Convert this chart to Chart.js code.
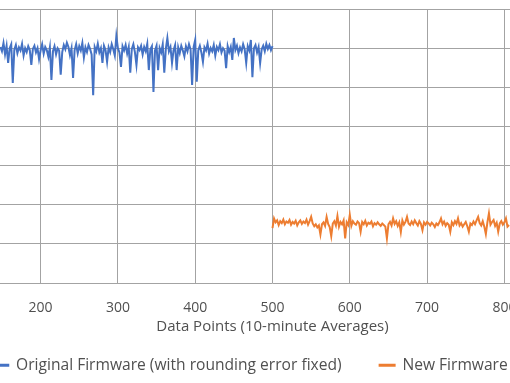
<!DOCTYPE html>
<html>
<head>
<meta charset="utf-8">
<script src="https://cdn.jsdelivr.net/npm/chart.js@4.4.1/dist/chart.umd.min.js"></script>
<style>
    html, body { margin: 0; padding: 0; background: #fff; overflow: hidden; }
    #wrap { position: relative; width: 510px; height: 383px; overflow: hidden; }
    /* the reference is a crop of a wider chart: the canvas hangs over both edges */
    #chart { position: absolute; left: -168px; top: 0; }
</style>
</head>
<body>
<div id="wrap"><canvas id="chart" width="877" height="383"></canvas></div>
<script>
/* ==========================================================================
   Firmware comparison, 10-minute averages (crop of an Excel line chart)
   ========================================================================== */

const SERIES_LABELS = ["Original Firmware (with rounding error fixed)", "New Firmware"];
const X_TITLE = "Data Points (10-minute Averages)";
const X_TICKS = [0, 100, 200, 300, 400, 500, 600, 700, 800, 900, 1000];
const Y_TICKS = [0, 1, 2, 3, 4, 5, 6, 7];

// original firmware: data points 148..500, every 2nd point
const ORIGINAL_START = 148;
const ORIGINAL_STEP = 2;
const ORIGINAL_VALUES = [
    6.03, 5.92, 6.13, 5.84, 6.06, 5.62, 6.00, 6.10, 5.11, 5.96,
    6.08, 5.87, 6.02, 5.94, 6.11, 5.81, 6.00, 5.90, 6.05, 5.95,
    5.57, 5.98, 6.06, 5.89, 6.00, 5.72, 5.94, 6.10, 5.86, 6.03,
    5.95, 5.78, 6.02, 5.19, 5.92, 6.05, 5.84, 6.00, 5.94, 5.32,
    5.90, 6.08, 5.97, 6.14, 6.03, 5.82, 6.00, 5.24, 5.95, 6.10,
    5.87, 6.05, 5.94, 6.13, 5.76, 6.02, 5.90, 6.08, 5.98, 5.84,
    4.80, 6.03, 5.92, 6.11, 5.89, 6.00, 5.62, 6.06, 5.95, 5.65,
    6.02, 5.90, 6.10, 5.97, 5.81, 6.31, 6.00, 5.89, 5.52, 6.05,
    5.94, 6.08, 5.86, 6.03, 5.37, 5.98, 6.10, 5.90, 5.57, 6.02,
    5.95, 6.06, 5.84, 6.03, 5.92, 6.11, 5.44, 5.97, 6.05, 4.88,
    5.94, 6.06, 5.44, 6.00, 5.89, 6.10, 5.37, 5.98, 6.26, 5.92,
    6.03, 5.62, 5.95, 6.08, 5.44, 6.02, 5.87, 6.06, 5.94, 5.79,
    6.05, 5.92, 6.10, 5.97, 5.06, 6.03, 6.21, 5.14, 5.95, 6.06,
    5.89, 5.65, 6.02, 5.94, 6.11, 5.86, 6.00, 5.92, 6.08, 5.81,
    6.03, 5.95, 6.10, 5.89, 6.00, 5.94, 5.49, 6.05, 5.90, 6.03,
    5.70, 6.26, 5.95, 6.06, 5.87, 6.02, 5.92, 6.10, 5.97, 5.62,
    6.05, 5.94, 6.21, 5.26, 6.00, 6.08, 5.89, 6.03, 5.62, 5.97,
    6.06, 5.92, 6.11, 5.98, 6.08, 5.95, 6.05,
];

// new firmware: data points 500..806, every 2nd point
const NEW_START = 500;
const NEW_STEP = 2;
const NEW_VALUES = [
    1.40, 1.65, 1.55, 1.60, 1.48, 1.58, 1.53, 1.62, 1.50, 1.57,
    1.54, 1.61, 1.49, 1.56, 1.52, 1.59, 1.47, 1.55, 1.60, 1.51,
    1.57, 1.53, 1.62, 1.49, 1.58, 1.69, 1.52, 1.45, 1.50, 1.42,
    1.47, 1.24, 1.50, 1.55, 1.46, 1.69, 1.51, 1.43, 1.20, 1.52,
    1.58, 1.47, 1.71, 1.44, 1.56, 1.50, 1.60, 1.14, 1.55, 1.48,
    1.74, 1.46, 1.58, 1.52, 1.49, 1.57, 1.53, 1.31, 1.56, 1.50,
    1.59, 1.47, 1.54, 1.51, 1.57, 1.45, 1.53, 1.49, 1.55, 1.50,
    1.46, 1.52, 1.48, 1.44, 1.14, 1.50, 1.56, 1.47, 1.65, 1.51,
    1.58, 1.46, 1.55, 1.30, 1.60, 1.49, 1.56, 1.69, 1.52, 1.48,
    1.57, 1.50, 1.60, 1.53, 1.47, 1.58, 1.51, 1.35, 1.55, 1.49,
    1.56, 1.52, 1.47, 1.54, 1.50, 1.43, 1.52, 1.48, 1.55, 1.65,
    1.50, 1.57, 1.46, 1.53, 1.49, 1.31, 1.55, 1.48, 1.58, 1.51,
    1.65, 1.47, 1.53, 1.44, 1.50, 1.56, 1.45, 1.31, 1.52, 1.48,
    1.57, 1.50, 1.60, 1.69, 1.53, 1.47, 1.58, 1.44, 1.25, 1.55,
    1.78, 1.49, 1.56, 1.61, 1.46, 1.54, 1.31, 1.52, 1.58, 1.49,
    1.55, 1.65, 1.44, 1.48,
];

const COLORS = {
    blue: "#4472C4",
    orange: "#ED7D31",
    grid: "#a3a3a3",
    text: "#505050",
};

const FONT = { family: "'Open Sans', sans-serif", size: 15 };
const LEGEND_FONT = { family: "'Open Sans', sans-serif", size: 15.6 };
const TICK_FONT = { family: "'Open Sans', sans-serif", size: 14 };

Chart.defaults.font.family = FONT.family;
Chart.defaults.font.size = FONT.size;
Chart.defaults.color = COLORS.text;

const toPoints = (start, step, values) => values.map((y, i) => ({ x: start + i * step, y }));

function firmwareChart(id) {
    const ctx = document.getElementById(id).getContext("2d");
    return new Chart(ctx, {
        type: "line",
        data: {
            datasets: [{
                label: SERIES_LABELS[0],
                data: toPoints(ORIGINAL_START, ORIGINAL_STEP, ORIGINAL_VALUES),
                borderColor: COLORS.blue,
                backgroundColor: COLORS.blue,
                borderWidth: 2,
                pointRadius: 0,
                tension: 0,
            }, {
                label: SERIES_LABELS[1],
                data: toPoints(NEW_START, NEW_STEP, NEW_VALUES),
                borderColor: COLORS.orange,
                backgroundColor: COLORS.orange,
                borderWidth: 2,
                pointRadius: 0,
                tension: 0,
            }],
        },
        options: {
            responsive: false,
            animation: false,
            layout: { padding: { left: 10, right: 50, top: 9, bottom: 0 } },
            plugins: {
                tooltip: { enabled: false },
                legend: {
                    position: "bottom",
                    labels: {
                        boxWidth: 15,
                        boxHeight: 1,
                        padding: 38,
                        color: COLORS.text,
                        font: LEGEND_FONT,
                    },
                },
            },
            scales: {
                x: {
                    type: "linear",
                    min: X_TICKS[0],
                    max: X_TICKS[X_TICKS.length - 1],
                    afterBuildTicks: (s) => { s.ticks = X_TICKS.map((v) => ({ value: v })); },
                    grid: { color: COLORS.grid, lineWidth: 1, drawTicks: false },
                    border: { display: false },
                    ticks: { padding: 16.5, maxRotation: 0, autoSkip: false, color: COLORS.text, font: TICK_FONT },
                    title: {
                        display: true,
                        text: X_TITLE,
                        color: COLORS.text,
                        font: FONT,
                        padding: { top: -14.9, bottom: -16.5 },
                    },
                },
                y: {
                    min: Y_TICKS[0],
                    max: Y_TICKS[Y_TICKS.length - 1],
                    afterBuildTicks: (s) => { s.ticks = Y_TICKS.map((v) => ({ value: v })); },
                    grid: { color: COLORS.grid, lineWidth: 1, drawTicks: false },
                    border: { display: false },
                    ticks: { display: false },
                    afterFit: (s) => { s.width = 44; },
                },
            },
        },
    });
}

firmwareChart("chart");
</script>
</body>
</html>
